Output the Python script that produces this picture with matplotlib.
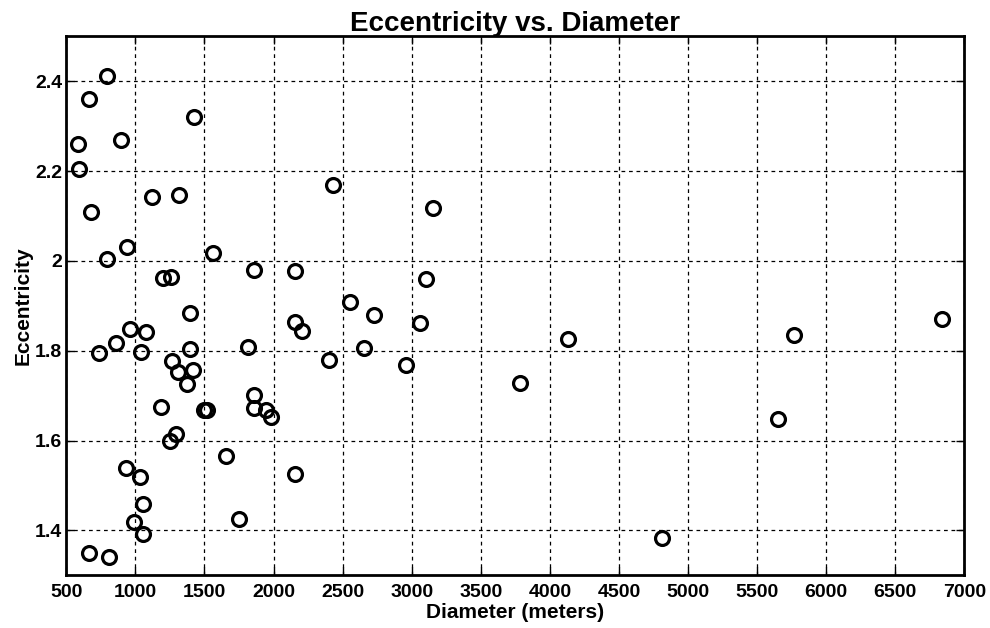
import matplotlib
matplotlib.use("Agg")
import matplotlib.pyplot as plt
from matplotlib.ticker import FuncFormatter

# values
diameter = [793, 661, 587, 899, 589, 1425, 2427, 678, 1122, 1317,
            942, 796, 1562, 1199, 1255, 1858, 2156, 1392, 959, 1079,
            858, 738, 1043, 1394, 1812, 2156, 2204, 2403, 1266, 1310,
            1418, 1375, 1187, 1500, 1519, 1855, 1855, 1947, 1983, 1248,
            1291, 935, 1031, 1656, 2156, 1057, 990, 1057, 1752, 666,
            810, 3153, 3100, 2553, 2726, 3057, 2654, 2956, 4134, 3786,
            4811, 5652, 5768, 6840]
eccentricity = [2.411, 2.360, 2.260, 2.270, 2.204, 2.321, 2.169, 2.108, 2.143, 2.146,
                2.032, 2.004, 2.018, 1.963, 1.965, 1.979, 1.977, 1.884, 1.849, 1.841,
                1.817, 1.795, 1.798, 1.804, 1.808, 1.865, 1.843, 1.780, 1.778, 1.753,
                1.756, 1.727, 1.675, 1.668, 1.668, 1.701, 1.673, 1.668, 1.653, 1.599,
                1.614, 1.539, 1.518, 1.565, 1.525, 1.458, 1.418, 1.392, 1.426, 1.349,
                1.340, 2.118, 1.959, 1.908, 1.880, 1.862, 1.806, 1.769, 1.827, 1.728,
                1.384, 1.647, 1.836, 1.871]
xticks = list(range(500, 7001, 500))
yticks = [1.4, 1.6, 1.8, 2.0, 2.2, 2.4]

plt.rcParams['font.family'] = ['Liberation Sans', 'DejaVu Sans']
plt.rcParams['font.weight'] = 'bold'

fig = plt.figure(figsize=(9.9, 6.28), dpi=100)
ax = fig.add_axes([0.067, 0.084, 0.907, 0.858])

ax.plot(diameter, eccentricity, 'o', markersize=10, markerfacecolor='none',
        markeredgecolor='black', markeredgewidth=2.3, linestyle='none')

ax.set_xlim(500, 7000)
ax.set_ylim(1.3, 2.5)
ax.set_xticks(xticks)
ax.set_yticks(yticks)
ax.yaxis.set_major_formatter(FuncFormatter(lambda v, p: '%g' % v))
ax.grid(True, color='black', linestyle=(0, (3, 3)), linewidth=0.9)
ax.tick_params(direction='in', top=True, right=True, length=6, width=1,
               labelsize=14)
ax.tick_params(axis='x', pad=6)
ax.tick_params(axis='y', pad=3)
for sp in ax.spines.values():
    sp.set_linewidth(2)

ax.set_title('Eccentricity vs. Diameter', fontsize=20, fontweight='bold', pad=4)
ax.set_xlabel('Diameter (meters)', fontsize=15, fontweight='bold', labelpad=2)
ax.set_ylabel('Eccentricity', fontsize=15, fontweight='bold', labelpad=2)

fig.savefig('out.png', dpi=100)
